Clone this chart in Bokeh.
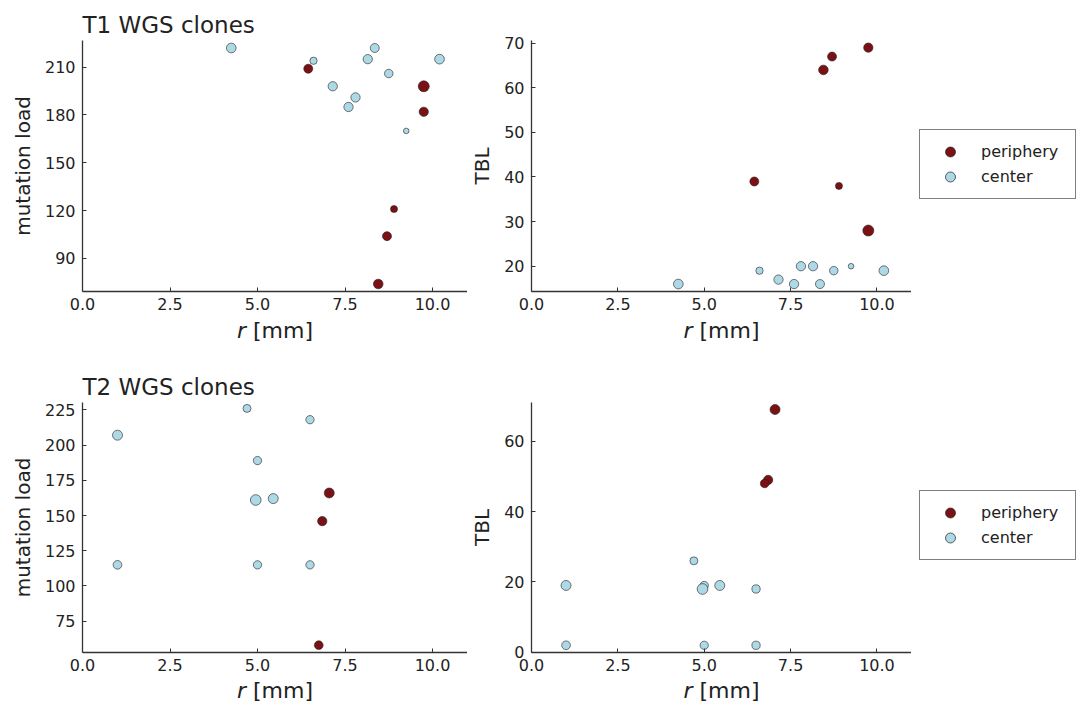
from bokeh.plotting import figure
from bokeh.layouts import column, row
from bokeh.models import Range1d, FixedTicker, Legend, LegendItem, ColumnDataSource, Label
from bokeh.embed import file_html
from bokeh.resources import INLINE

# ---------------- data ----------------
# T1 clones
t1_periph_r = [6.45, 8.45, 8.7, 8.9, 9.75, 9.75]
t1_periph_load = [209, 74, 104, 121, 198, 182]
t1_periph_tbl = [39, 64, 67, 38, 28, 69]
t1_periph_size = [9.0, 9.6, 9.0, 7.0, 11.0, 9.3]

t1_center_r = [4.25, 6.6, 7.15, 7.6, 7.8, 8.15, 8.35, 8.75, 9.25, 10.2]
t1_center_load = [222, 214, 198, 185, 191, 215, 222, 206, 170, 215]
t1_center_tbl = [16, 19, 17, 16, 20, 20, 16, 19, 20, 19]
t1_center_size = [9.7, 7.3, 9.3, 9.3, 9.3, 9.3, 9.0, 8.5, 5.6, 9.7]

# T2 clones
t2_periph_r = [7.05, 6.85, 6.75]
t2_periph_load = [166, 146, 58]
t2_periph_tbl = [69, 49, 48]
t2_periph_size = [10.0, 9.3, 8.7]

t2_center_r = [1.0, 1.0, 4.7, 5.0, 5.0, 4.95, 5.45, 6.5, 6.5]
t2_center_load = [207, 115, 226, 189, 115, 161, 162, 218, 115]
t2_center_tbl = [19, 2, 26, 19, 2, 18, 19, 18, 2]
t2_center_size = [10.0, 8.7, 8.0, 8.3, 8.3, 10.7, 10.0, 8.3, 8.3]

x_ticks = [0, 2.5, 5, 7.5, 10]
x_tick_labels = ["0.0", "2.5", "5.0", "7.5", "10.0"]
t1_load_ticks = [90, 120, 150, 180, 210]
t1_tbl_ticks = [20, 30, 40, 50, 60, 70]
t2_load_ticks = [75, 100, 125, 150, 175, 200, 225]
t2_tbl_ticks = [0, 20, 40, 60]
legend_labels = ["periphery", "center"]
x_label_var = "r"
x_label_unit = "[mm]"

RED = "#7b1114"
BLUE = "#add8e6"
EDGE = "#222222"
TXT = "#222222"
FONT = "DejaVu Sans"
X_MAX = 11


def make_fig(width, height, yr, yticks, ylabel, title, bl, br, bt, bb):
    p = figure(width=width, height=height, x_range=Range1d(0, X_MAX), y_range=yr,
               output_backend="svg", toolbar_location=None,
               min_border_left=bl, min_border_right=br,
               min_border_top=bt, min_border_bottom=bb)
    p.xgrid.visible = False
    p.ygrid.visible = False
    p.outline_line_color = None
    p.background_fill_color = "white"
    p.border_fill_color = "white"
    if title:
        p.title.text = title
        p.title.text_font = FONT
        p.title.text_font_size = "23px"
        p.title.text_font_style = "normal"
        p.title.text_color = TXT
        p.title.align = "left"
        p.title.offset = 0
        p.title.standoff = 5
    p.xaxis.ticker = FixedTicker(ticks=x_ticks)
    p.xaxis.major_label_overrides = {t: l for t, l in zip(x_ticks, x_tick_labels)}
    p.yaxis.ticker = FixedTicker(ticks=yticks)
    p.yaxis.axis_label = ylabel
    for ax in (p.xaxis[0], p.yaxis[0]):
        ax.minor_tick_line_color = None
        ax.major_tick_in = 4
        ax.major_tick_out = 0
        ax.major_tick_line_color = "#333333"
        ax.axis_line_color = "#333333"
        ax.axis_line_width = 1.3
        ax.major_label_text_font = FONT
        ax.major_label_text_font_size = "16px"
        ax.major_label_text_color = TXT
        ax.axis_label_text_font = FONT
        ax.axis_label_text_font_style = "normal"
        ax.axis_label_text_color = TXT
    p.yaxis.axis_label_text_font_size = "20px"
    p.xaxis.major_label_standoff = 6
    p.yaxis.major_label_standoff = 7
    p.yaxis.axis_label_standoff = 7
    return p


def make_xlabel_strip(width, height, center_y_from_top):
    """Strip under a panel carrying the x axis label 'r [mm]' with an italic r.
    Its frame is aligned with the panel above, so x uses the same data range."""
    s = figure(width=width, height=height, x_range=Range1d(0, X_MAX), y_range=Range1d(0, height),
               output_backend="svg", toolbar_location=None,
               x_axis_type=None, y_axis_type=None,
               min_border_left=0, min_border_right=0, min_border_top=0, min_border_bottom=0)
    s.xgrid.visible = False
    s.ygrid.visible = False
    s.outline_line_color = None
    yy = height - center_y_from_top
    s.add_layout(Label(x=X_MAX / 2.0, y=yy, x_offset=-38,
                       text=x_label_var, text_font=FONT,
                       text_font_style="italic", text_font_size="22px", text_color=TXT,
                       text_align="left", text_baseline="middle"))
    s.add_layout(Label(x=X_MAX / 2.0, y=yy, x_offset=-22,
                       text=x_label_unit, text_font=FONT,
                       text_font_style="normal", text_font_size="22px", text_color=TXT,
                       text_align="left", text_baseline="middle"))
    return s


def add_points(p, rp, vp, sp, rc, vc, sc):
    src_p = ColumnDataSource(dict(x=rp, y=vp, s=sp))
    src_c = ColumnDataSource(dict(x=rc, y=vc, s=sc))
    p.scatter("x", "y", size="s", source=src_p, fill_color=RED,
              line_color=EDGE, line_width=0.6)
    p.scatter("x", "y", size="s", source=src_c, fill_color=BLUE,
              line_color=EDGE, line_width=0.6)


def make_legend_fig(width, height, bt, bb):
    p = figure(width=width, height=height, x_range=Range1d(0, 1), y_range=Range1d(0, 1),
               output_backend="svg", toolbar_location=None,
               x_axis_type=None, y_axis_type=None,
               min_border_left=0, min_border_right=0,
               min_border_top=bt, min_border_bottom=bb)
    p.xgrid.visible = False
    p.ygrid.visible = False
    p.outline_line_color = None
    # legend proxies (placed outside the visible range)
    proxy_r = p.scatter(x=[-100], y=[-100], size=10, fill_color=RED, line_color=EDGE, line_width=0.7)
    proxy_b = p.scatter(x=[-100], y=[-100], size=10, fill_color=BLUE, line_color=EDGE, line_width=0.7)
    lg = Legend(items=[LegendItem(label=legend_labels[0], renderers=[proxy_r]),
                       LegendItem(label=legend_labels[1], renderers=[proxy_b])],
                location=(8, 92), glyph_width=42, glyph_height=25,
                spacing=0, padding=9, label_standoff=10, label_width=85,
                label_text_font=FONT, label_text_font_size="16px",
                label_text_color=TXT, border_line_color="black",
                border_line_width=1.2, margin=0, background_fill_alpha=1.0)
    p.add_layout(lg)
    return p


# Row 1 (panels 316 px high + 34 px label strip)
pA = make_fig(467, 316, Range1d(69.3, 226.7), t1_load_ticks, "mutation load",
              "T1 WGS clones", 82, 0, 40, 25)
add_points(pA, t1_periph_r, t1_periph_load, t1_periph_size,
           t1_center_r, t1_center_load, t1_center_size)
sA = make_xlabel_strip(467, 34, 14)

pB = make_fig(444, 316, Range1d(14.33, 70.6), t1_tbl_ticks, "TBL",
              None, 58, 0, 40, 25)
add_points(pB, t1_periph_r, t1_periph_tbl, t1_periph_size,
           t1_center_r, t1_center_tbl, t1_center_size)
sB = make_xlabel_strip(444, 34, 14)
pL1 = make_legend_fig(166, 350, 40, 59)

# Row 2 (panels 327 px high + 25 px label strip)
pC = make_fig(467, 327, Range1d(52.8, 230.2), t2_load_ticks, "mutation load",
              "T2 WGS clones", 82, 0, 52, 25)
add_points(pC, t2_periph_r, t2_periph_load, t2_periph_size,
           t2_center_r, t2_center_load, t2_center_size)
sC = make_xlabel_strip(467, 25, 13)

pD = make_fig(444, 327, Range1d(-0.05, 71.0), t2_tbl_ticks, "TBL",
              None, 58, 0, 52, 25)
add_points(pD, t2_periph_r, t2_periph_tbl, t2_periph_size,
           t2_center_r, t2_center_tbl, t2_center_size)
sD = make_xlabel_strip(444, 25, 13)
pL2 = make_legend_fig(166, 352, 52, 50)

layout = column(
    row(column(pA, sA, spacing=0), column(pB, sB, spacing=0), pL1, spacing=0),
    row(column(pC, sC, spacing=0), column(pD, sD, spacing=0), pL2, spacing=0),
    spacing=0)
open("out.html", "w").write(file_html(layout, INLINE))
